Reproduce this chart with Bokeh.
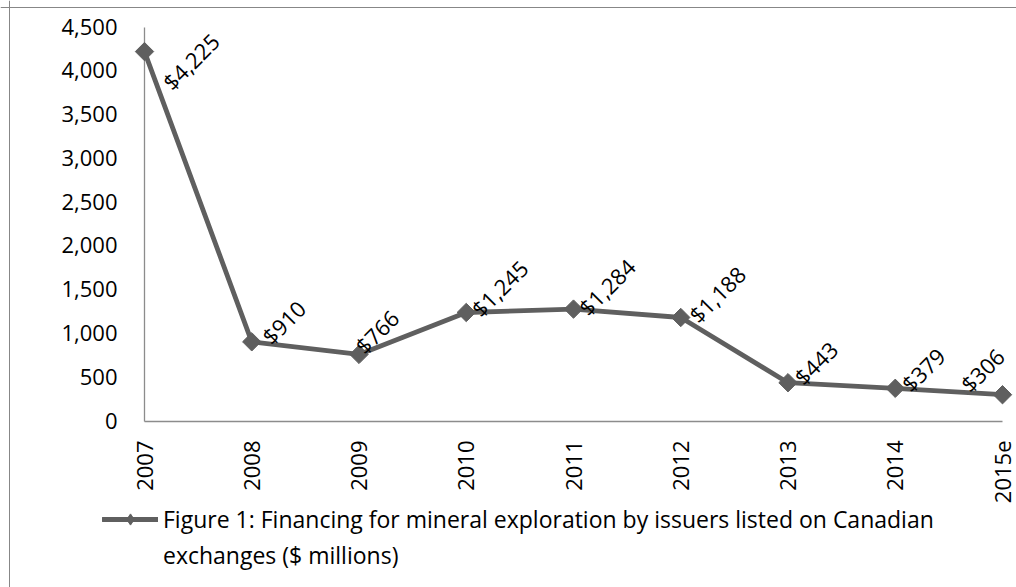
import math
from bokeh.plotting import figure
from bokeh.models import (Range1d, Legend, LegendItem, ColumnDataSource, Span)
from bokeh.core.properties import value
from bokeh.embed import file_html
from bokeh.resources import INLINE

# ---- data ----
years = ["2007", "2008", "2009", "2010", "2011", "2012", "2013", "2014", "2015e"]
financing = [4225, 910, 766, 1245, 1284, 1188, 443, 379, 306]
y_ticks = [0, 500, 1000, 1500, 2000, 2500, 3000, 3500, 4000, 4500]
legend_line1 = "Figure 1: Financing for mineral exploration by issuers listed on Canadian"
legend_line2 = "exchanges ($ millions)"

# ---- label placement (screen px, +y down) ----
label_dx = [22, 14, 0, 9, 9, 12, 10, 10, -38]
label_dy = [34, -2, -5, 0, 2, 1, -2, -1, -7]

FONT = "Open Sans"
FS = "22px"
FS_LEG = "23px"
LINE_COL = "#5f5f5f"
AXIS_COL = "#8c8c8c"
W, H = 1016, 587

# ---- pixel geometry of the plot area (canvas px) ----
X0_PX, XSTEP_PX = 144, 107.25      # first category position, spacing
Y0_PX, YTOP_PX = 421, 27           # y=0 and y=top tick positions
y_top = y_ticks[-1]
ypx = (Y0_PX - YTOP_PX) / y_top    # px per unit

x_lo = -X0_PX / XSTEP_PX
x_hi = x_lo + W / XSTEP_PX
y_hi = y_top + YTOP_PX / ypx
y_lo = -(H - Y0_PX) / ypx

def px2x(px):
    return x_lo + px / XSTEP_PX

def px2y(py):
    return y_hi - py / ypx

xs = list(range(len(years)))
labels = ["${:,}".format(v) for v in financing]
src = ColumnDataSource(dict(x=xs, y=financing, lab=labels, dx=label_dx, dy=label_dy))

p = figure(width=W, height=H, output_backend="svg", toolbar_location=None,
           x_range=Range1d(x_lo, x_hi), y_range=Range1d(y_lo, y_hi),
           min_border=0, x_axis_type=None, y_axis_type=None)
p.outline_line_color = None
p.grid.visible = False
p.background_fill_color = "white"
p.border_fill_color = "white"

# outer chart border (left and top visible)
p.add_layout(Span(location=px2x(9), dimension="height", line_color="#878787", line_width=1))
p.add_layout(Span(location=px2y(7), dimension="width", line_color="#878787", line_width=1))

# axis lines
p.line(x=[0, 0], y=[0, y_top], line_color=AXIS_COL, line_width=1.3)
p.line(x=[0, len(years) - 1], y=[0, 0], line_color=AXIS_COL, line_width=1.3)

# y tick labels
ysrc = ColumnDataSource(dict(y=y_ticks, t=["{:,}".format(v) for v in y_ticks],
                             x=[0] * len(y_ticks)))
p.text("x", "y", text="t", source=ysrc, x_offset=-27, y_offset=-1, text_align="right",
       text_baseline="middle", text_font=value(FONT), text_font_size=FS,
       text_color="black")

# x tick labels (vertical)
xsrc = ColumnDataSource(dict(x=xs, y=[0] * len(xs), t=years))
p.text("x", "y", text="t", source=xsrc, y_offset=19, angle=math.pi / 2,
       text_align="right", text_baseline="middle", text_font=value(FONT),
       text_font_size=FS, text_color="black")

# series
lr = p.line("x", "y", source=src, line_color=LINE_COL, line_width=4.8,
            line_cap="round", line_join="round")
sr = p.scatter("x", "y", source=src, marker="square", angle=math.pi / 4, size=13,
               fill_color=LINE_COL, line_color=LINE_COL)
# legend-only glyphs (nothing drawn in the plot: NaN position)
nan = float("nan")
leg_marker = p.scatter(x=[nan], y=[nan], marker="diamond", size=21,
                       fill_color=LINE_COL, line_color=LINE_COL)
ghost = p.line("x", "y", source=src, line_alpha=0)

p.text("x", "y", text="lab", source=src, angle=math.pi / 4, x_offset="dx", y_offset="dy",
       text_font=value(FONT), text_font_size=FS, text_color="black",
       text_align="left", text_baseline="alphabetic")

legend = Legend(items=[LegendItem(label=legend_line1, renderers=[lr, leg_marker]),
                       LegendItem(label=legend_line2, renderers=[ghost])],
                location=(102, 16), glyph_width=56, glyph_height=28,
                label_standoff=5, padding=0, margin=0, spacing=4,
                border_line_color=None, background_fill_alpha=0,
                label_text_font=FONT, label_text_font_size=FS_LEG,
                label_text_color="black")
p.add_layout(legend, "center")

open("out.html", "w").write(file_html(p, INLINE))
